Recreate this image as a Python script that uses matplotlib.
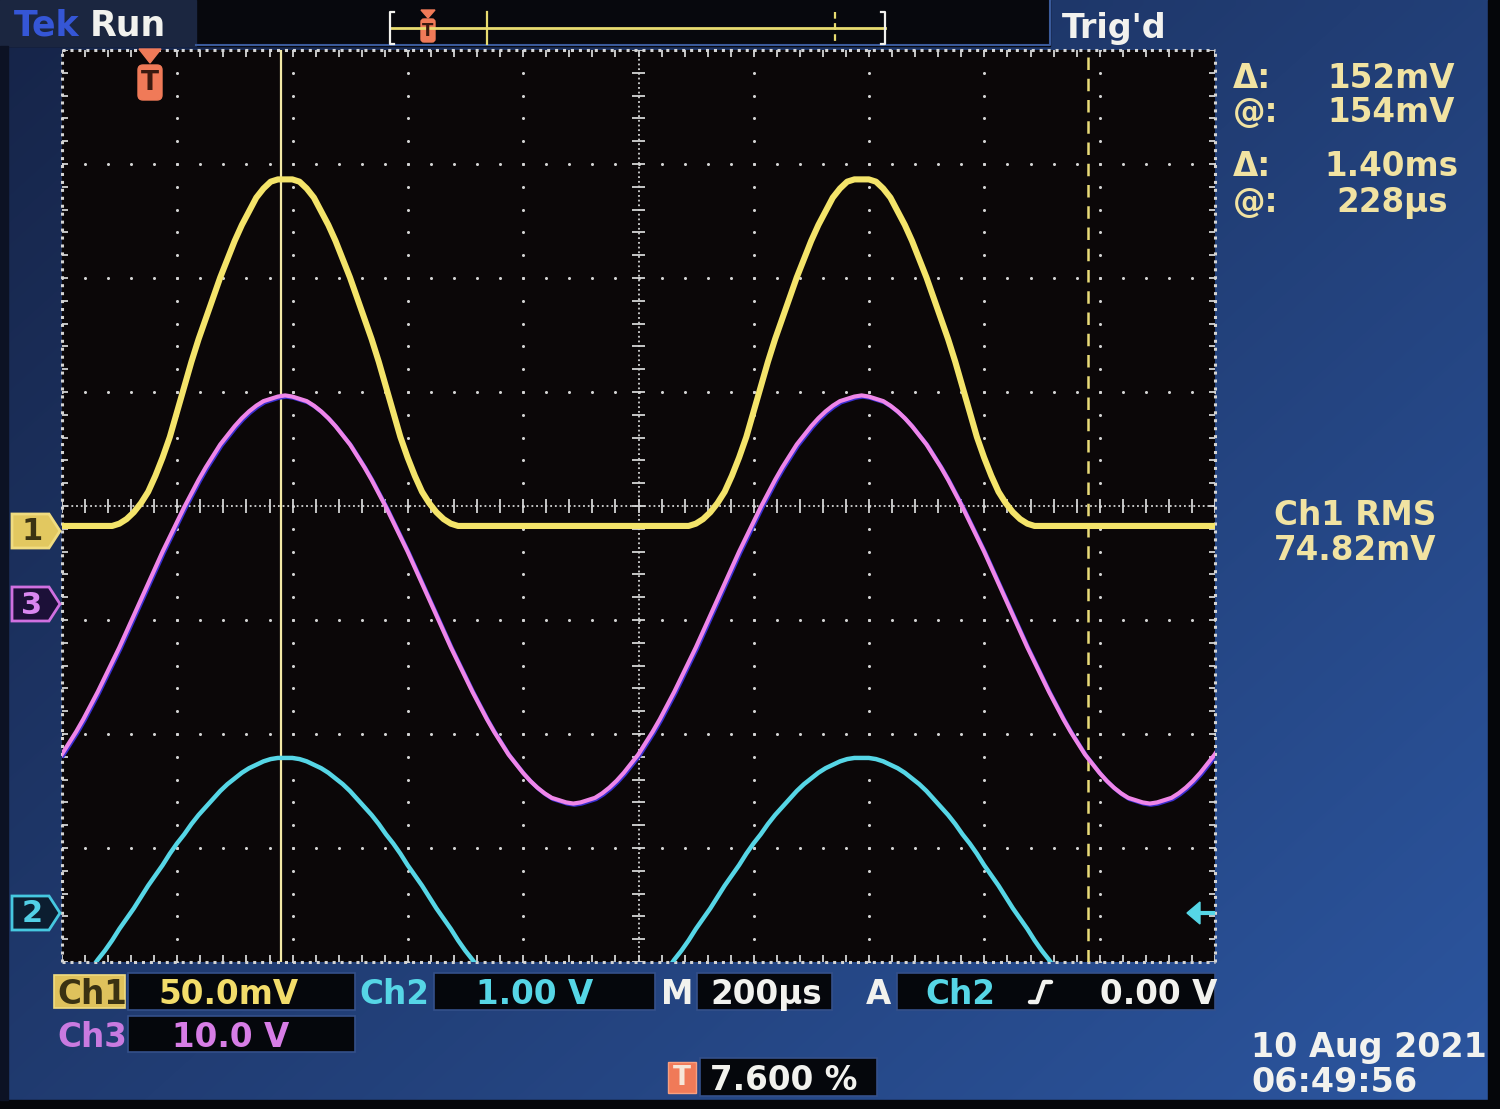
import numpy as np
import matplotlib.pyplot as plt
from matplotlib import transforms
from matplotlib.patches import Polygon, Rectangle, FancyBboxPatch

W, H = 1500, 1109

# ---- acquisition: sample times (us) and channel readings
t_us = np.arange(-152.5, 1860.1, 12.5)

ch1_mV = [2, 2, 2, 2, 2, 2, 2, 2,
          3, 5, 8, 12, 17, 24, 32, 41, 52, 63, 74, 84, 93, 102, 111, 119, 127, 134, 140, 146, 150, 153, 154,
          154,
          154, 153, 150, 146, 140, 134, 127, 119, 111, 102, 93, 84, 74, 63, 52, 41, 32, 24, 17, 12, 8, 5, 3,
          2, 2, 2, 2, 2, 2, 2, 2, 2, 2, 2, 2, 2, 2, 2, 2, 2, 2, 2, 2, 2, 2, 2, 2, 2, 2, 2, 2, 2, 2, 2, 2, 2,
          3, 5, 8, 12, 17, 24, 32, 41, 52, 63, 74, 84, 93, 102, 111, 119, 127, 134, 140, 146, 150, 153, 154,
          154,
          154, 153, 150, 146, 140, 134, 127, 119, 111, 102, 93, 84, 74, 63, 52, 41, 32, 24, 17, 12, 8, 5, 3,
          2, 2, 2, 2, 2, 2, 2, 2, 2, 2, 2, 2, 2, 2, 2, 2, 2, 2, 2, 2, 2, 2, 2, 2, 2, 2, 2]

ch3_V = [-13.3, -12.3, -11.3, -10.2, -9.0, -7.8, -6.5, -5.2, -3.9, -2.5, -1.1, 0.3, 1.7, 3.1, 4.5, 5.8,
         7.1, 8.4, 9.6, 10.8, 11.9, 12.9, 13.9, 14.7, 15.5, 16.2, 16.8, 17.3, 17.7, 17.9, 18.1,
         18.2, 18.1, 17.9, 17.7, 17.3, 16.8, 16.2, 15.5, 14.7, 13.9, 12.9, 11.9, 10.8, 9.6, 8.4, 7.1,
         5.8, 4.5, 3.1, 1.7, 0.3, -1.1, -2.5, -3.9, -5.2, -6.5, -7.8, -9.0, -10.2, -11.3, -12.3, -13.3,
         -14.1, -14.9, -15.6, -16.2, -16.7, -17.1, -17.3, -17.5, -17.6,
         -17.5, -17.3, -17.1, -16.7, -16.2, -15.6, -14.9, -14.1, -13.3, -12.3, -11.3, -10.2, -9.0, -7.8,
         -6.5, -5.2, -3.9, -2.5, -1.1, 0.3, 1.7, 3.1, 4.5, 5.8, 7.1, 8.4, 9.6, 10.8, 11.9, 12.9, 13.9,
         14.7, 15.5, 16.2, 16.8, 17.3, 17.7, 17.9, 18.1,
         18.2, 18.1, 17.9, 17.7, 17.3, 16.8, 16.2, 15.5, 14.7, 13.9, 12.9, 11.9, 10.8, 9.6, 8.4, 7.1,
         5.8, 4.5, 3.1, 1.7, 0.3, -1.1, -2.5, -3.9, -5.2, -6.5, -7.8, -9.0, -10.2, -11.3, -12.3, -13.3,
         -14.1, -14.9, -15.6, -16.2, -16.7, -17.1, -17.3, -17.5, -17.6,
         -17.5, -17.3, -17.1, -16.7, -16.2, -15.6, -14.9, -14.1, -13.3, -12.3]

ch2_V = [-0.79, -0.72, -0.65, -0.58, -0.50, -0.41, -0.33, -0.24, -0.14, -0.05, 0.04, 0.14, 0.24, 0.33,
         0.42, 0.52, 0.61, 0.69, 0.78, 0.86, 0.93, 1.00, 1.07, 1.13, 1.18, 1.23, 1.27, 1.30, 1.33, 1.35, 1.36,
         1.36, 1.36, 1.35, 1.33, 1.30, 1.27, 1.23, 1.18, 1.13, 1.07, 1.00, 0.93, 0.86, 0.78, 0.69, 0.61,
         0.52, 0.42, 0.33, 0.24, 0.14, 0.04, -0.05, -0.14, -0.24, -0.33, -0.41, -0.50, -0.58, -0.65, -0.72,
         -0.79, -0.85, -0.90, -0.95, -0.99, -1.02, -1.05, -1.07, -1.08, -1.08,
         -1.08, -1.07, -1.05, -1.02, -0.99, -0.95, -0.90, -0.85, -0.79, -0.72, -0.65, -0.58, -0.50, -0.41,
         -0.33, -0.24, -0.14, -0.05, 0.04, 0.14, 0.24, 0.33, 0.42, 0.52, 0.61, 0.69, 0.78, 0.86, 0.93,
         1.00, 1.07, 1.13, 1.18, 1.23, 1.27, 1.30, 1.33, 1.35, 1.36,
         1.36, 1.36, 1.35, 1.33, 1.30, 1.27, 1.23, 1.18, 1.13, 1.07, 1.00, 0.93, 0.86, 0.78, 0.69, 0.61,
         0.52, 0.42, 0.33, 0.24, 0.14, 0.04, -0.05, -0.14, -0.24, -0.33, -0.41, -0.50, -0.58, -0.65, -0.72,
         -0.79, -0.85, -0.90, -0.95, -0.99, -1.02, -1.05, -1.07, -1.08, -1.08,
         -1.08, -1.07, -1.05, -1.02, -0.99, -0.95, -0.90, -0.85, -0.79, -0.72]

# vertical scale per division and position (divisions from centre)
ch1_scale_mV, ch1_pos = 50.0, -0.215
ch2_scale_V, ch2_pos = 1.00, -3.57
ch3_scale_V, ch3_pos = 10.0, -0.85

us_per_div = 200.0
trig_pct = 7.6
t_left = -trig_pct / 100 * 10 * us_per_div

cursor_t_us = [228, 1628]

readouts = [("Δ:", "152mV"), ("@:", "154mV"), ("Δ:", "1.40ms"), ("@:", "228µs")]
meas_label, meas_value = "Ch1 RMS", "74.82mV"
date_str, time_str = "10 Aug 2021", "06:49:56"

YEL = "#f4e46a"
MAG = "#ef86e8"
CYN = "#56d6e6"
CREAM = "#f1e3a2"
WHITE = "#f2f2ee"
ORANGE = "#f07a58"
DOT = "#d4d4d4"
FONT = dict(family="DejaVu Sans", weight="bold", fontsize=23.5)


def to_x(t):
    return (np.asarray(t, dtype=float) - t_left) / us_per_div


fig = plt.figure(figsize=(15, 11.09), dpi=100)

# ---- background panels
bg = fig.add_axes([0, 0, 1, 1], zorder=0)
gx, gy = np.meshgrid(np.linspace(0, 1, 150), np.linspace(0, 1, 111))
wgt = np.clip(0.55 * gx + 0.45 * gy, 0, 1)[..., None]
c0 = np.array([22, 36, 72]) / 255
c1 = np.array([44, 86, 160]) / 255
bg.imshow(c0 + (c1 - c0) * wgt, extent=(0, W, H, 0), aspect="auto", interpolation="bilinear")
bg.add_patch(Rectangle((0, 0), 1050, 46, color="#07080d"))
bg.add_patch(Rectangle((0, 0), 196, 46, color="#1b2640"))
bg.plot([196, 1050, 1050], [45, 45, 0], color="#3a5a9a", lw=1.5)
bg.add_patch(Rectangle((1488, 0), 12, H, color="#05060a"))
bg.add_patch(Rectangle((0, 1100), W, 9, color="#05060a"))
bg.add_patch(Rectangle((0, 46), 8, 1054, color="#0c1224"))
bg.set_xlim(0, W)
bg.set_ylim(H, 0)
bg.axis("off")

# ---- graticule
ax = fig.add_axes([62 / W, 1 - 962 / H, (1215 - 62) / W, (962 - 50) / H], zorder=1)
ax.set_facecolor("#0b0708")
ax.set_xlim(0, 10)
ax.set_ylim(-4, 4)
for s in ax.spines.values():
    s.set_visible(False)
ax.set_xticks([])
ax.set_yticks([])

fx = np.arange(0, 10.001, 0.2)
fy = np.arange(-4, 4.001, 0.2)
for xv in [1, 2, 3, 4, 6, 7, 8, 9]:
    ax.plot(np.full_like(fy, xv), fy, "o", ms=2.2, color=DOT, mec="none")
for yv in [-3, -2, -1, 1, 2, 3]:
    ax.plot(fx, np.full_like(fx, yv), "o", ms=2.2, color=DOT, mec="none")
dots = (0, (1, 1.6))
ax.axhline(0, color=DOT, lw=1.3, ls=dots)
ax.axvline(5, color=DOT, lw=1.3, ls=dots)
ax.vlines(fx, -0.065, 0.065, color=DOT, lw=1.3)
ax.hlines(fy, 4.94, 5.06, color=DOT, lw=1.3)
for yv in (-4, 4):
    ax.axhline(yv, color=DOT, lw=2.2, ls=dots, clip_on=False)
for xv in (0, 10):
    ax.axvline(xv, color=DOT, lw=2.2, ls=dots, clip_on=False)
ax.vlines(fx, -4, -3.94, color=DOT, lw=1.3)
ax.vlines(fx, 3.94, 4, color=DOT, lw=1.3)
ax.hlines(fy, 0, 0.055, color=DOT, lw=1.3)
ax.hlines(fy, 9.945, 10, color=DOT, lw=1.3)

# cursors
ax.axvline(to_x(cursor_t_us[0]), color="#f3e9a6", lw=1.6, zorder=4)
ax.axvline(to_x(cursor_t_us[1]), color="#eadc78", lw=1.8, ls=(0, (5, 3.5)), zorder=4)

# traces
xs = to_x(t_us)
shift = transforms.offset_copy(ax.transData, fig=fig, x=1.2, y=-1.2, units="dots")
ax.plot(xs, np.array(ch3_V) / ch3_scale_V + ch3_pos, color="#3a2fd0", lw=3.0, transform=shift, zorder=5)
ax.plot(xs, np.array(ch3_V) / ch3_scale_V + ch3_pos, color=MAG, lw=3.0, zorder=6)
ax.plot(xs, np.array(ch2_V) / ch2_scale_V + ch2_pos, color=CYN, lw=3.2, zorder=6)
ax.plot(xs, np.array(ch1_mV) / ch1_scale_mV + ch1_pos, color=YEL, lw=4.4, zorder=7,
        solid_joinstyle="round")

# ---- foreground: labels and markers in pixel space
fg = fig.add_axes([0, 0, 1, 1], zorder=3)
fg.set_xlim(0, W)
fg.set_ylim(H, 0)
fg.axis("off")
fg.patch.set_alpha(0)


def txt(x, y, s, color, ha="left", **kw):
    opts = dict(FONT)
    opts.update(kw)
    fg.text(x, y, s, color=color, ha=ha, va="baseline", **opts)


def badge(ytip, label, face, edge, tcolor):
    pts = [(12, ytip - 17), (49, ytip - 17), (60, ytip), (49, ytip + 17), (12, ytip + 17)]
    fg.add_patch(Polygon(pts, closed=True, fc=face, ec=edge, lw=2))
    fg.text(32, ytip + 1, label, color=tcolor, ha="center", va="center",
            family="DejaVu Sans", weight="bold", fontsize=22)


# top bar
txt(14, 35, "Tek", "#3556d6", fontsize=25)
txt(90, 35, "Run", WHITE, fontsize=25)
txt(1062, 38, "Trig'd", WHITE, fontsize=24)
fg.plot([390, 885], [28, 28], color="#e8dc70", lw=2)
fg.plot([394, 390, 390, 394], [12, 12, 44, 44], color=WHITE, lw=1.6)
fg.plot([881, 885, 885, 881], [12, 12, 44, 44], color=WHITE, lw=1.6)
fg.plot([487, 487], [12, 44], color="#e8dc70", lw=1.6)
fg.plot([835, 835], [12, 44], color="#e8dc70", lw=1.6, ls=(0, (3, 2)))
fg.add_patch(Polygon([(421, 10), (435, 10), (428, 18)], closed=True, color=ORANGE))
fg.add_patch(FancyBboxPatch((421, 19), 14, 23, boxstyle="round,pad=0,rounding_size=3", color=ORANGE))
fg.text(428, 31, "T", color="#3a1a10", ha="center", va="center", family="DejaVu Sans",
        weight="bold", fontsize=12)

# trigger position marker on the graticule
fg.add_patch(Polygon([(139, 49), (161, 49), (150, 63)], closed=True, color=ORANGE))
fg.add_patch(FancyBboxPatch((138, 65), 24, 35, boxstyle="round,pad=0,rounding_size=5", color=ORANGE))
fg.text(150, 83, "T", color="#3a1a10", ha="center", va="center", family="DejaVu Sans",
        weight="bold", fontsize=19)

# channel ground markers
badge(531, "1", "#e2c860", "#f0dc80", "#3a3212")
badge(604, "3", "#1c1038", "#d070e0", "#d987f0")
badge(913, "2", "#0c1e30", "#46c8e0", "#52d0e6")

# trigger level arrow
fg.add_patch(Polygon([(1187, 913), (1200, 902), (1200, 924)], closed=True, color=CYN))
fg.plot([1199, 1213], [913, 913], color=CYN, lw=3)

# cursor readouts
ys_read = [88, 122, 176, 212]
right_x = [1455, 1455, 1458, 1448]
for (sym, val), yb, xr in zip(readouts, ys_read, right_x):
    txt(1233, yb, sym, CREAM)
    txt(xr, yb, val, CREAM, ha="right")
txt(1274, 525, meas_label, CREAM)
txt(1274, 560, meas_value, CREAM)

# bottom status boxes
for x0, y0, x1, y1 in [(128, 973, 355, 1010), (434, 973, 655, 1010), (697, 973, 832, 1010),
                       (897, 973, 1215, 1010), (128, 1016, 355, 1052), (700, 1058, 877, 1096)]:
    fg.add_patch(Rectangle((x0, y0), x1 - x0, y1 - y0, fc="#05070c", ec="#34508a", lw=1.2))
fg.add_patch(Rectangle((54, 975), 71, 33, fc="#dfc25c", ec="#f0dc80", lw=1.2))
txt(57, 1004, "Ch1", "#3a3212")
txt(158, 1004, f"{ch1_scale_mV:.1f}mV", "#f2dc6a")
txt(359, 1004, "Ch2", CYN)
txt(476, 1004, f"{ch2_scale_V:.2f} V", CYN)
txt(661, 1004, "M", WHITE)
txt(710, 1004, f"{us_per_div:.0f}µs", WHITE)
txt(866, 1004, "A", WHITE)
txt(925, 1004, "Ch2", CYN)
fg.plot([1030, 1037, 1044, 1051], [1002, 1002, 982, 982], color=WHITE, lw=3.2, solid_capstyle="round")
txt(1100, 1004, "0.00 V", WHITE)
txt(57, 1047, "Ch3", "#c97ae0")
txt(172, 1047, f"{ch3_scale_V:.1f} V", "#d77de6")
fg.add_patch(Rectangle((668, 1062), 28, 31, fc=ORANGE, ec="#f8a080", lw=1))
fg.text(682, 1078, "T", color="#f6e6d8", ha="center", va="center", family="DejaVu Sans",
        weight="bold", fontsize=19)
txt(710, 1090, f"{trig_pct:.3f} %", WHITE)
txt(1251, 1057, date_str, WHITE, fontsize=24)
txt(1251, 1092, time_str, WHITE, fontsize=24)

fig.savefig("out.png", dpi=100, facecolor=fig.get_facecolor())
